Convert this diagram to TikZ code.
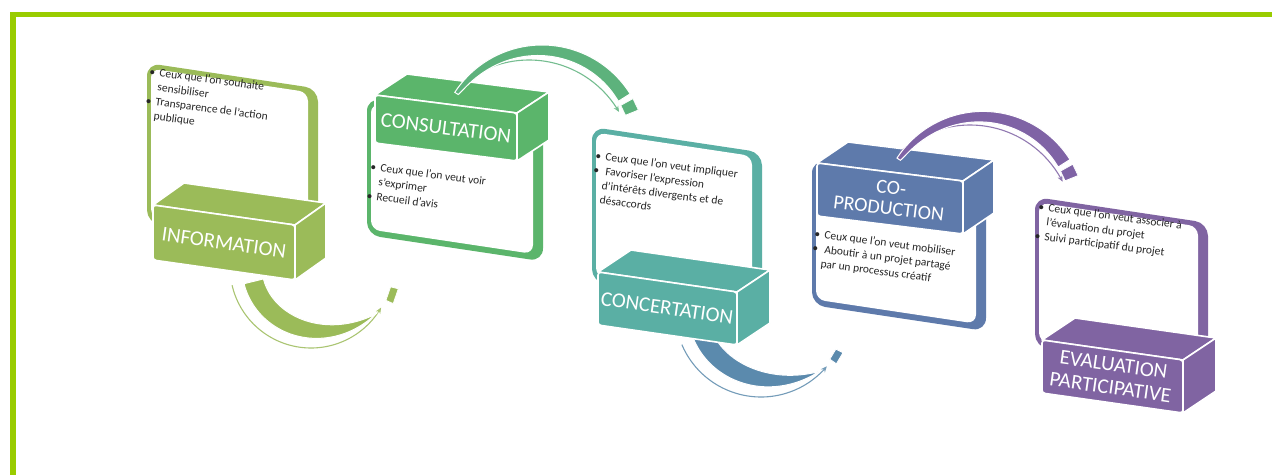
\documentclass[tikz,border=0pt]{standalone}
\usepackage{fontspec}
\setmainfont{Carlito}
\usetikzlibrary{arrows.meta}
\definecolor{frame}{HTML}{99CC00}
\definecolor{cA}{HTML}{9BBB59}
\definecolor{cB}{HTML}{5BB56B}
\definecolor{cC}{HTML}{5AAFA4}
\definecolor{cD}{HTML}{5E7AAB}
\definecolor{cE}{HTML}{8064A2}
\definecolor{aA}{HTML}{9BBB59}
\definecolor{aB}{HTML}{5DB27C}
\definecolor{aC}{HTML}{5B8AAD}
\definecolor{aD}{HTML}{7F63A5}
\definecolor{txt}{HTML}{262626}

\tikzset{
  lab/.style={text=white, font=\fontsize{21}{22}\selectfont, align=center, inner sep=0pt},
  labtwo/.style={text=white, font=\fontsize{20}{21}\selectfont, align=center, inner sep=0pt},
  ptext/.style={text=txt, font=\fontsize{11.5}{14.5}\selectfont, align=left, inner sep=0pt, anchor=north west, rotate=-7.5},
  face/.style={draw=white, line width=1.6pt, line join=round},
}

\newcommand{\bitem}{\makebox[10pt][l]{\textbullet}}
\newcommand{\bcont}{\makebox[10pt]{}}

% panel: colour, x, y (top-left), width, height
\newcommand{\panel}[5]{%
  \begin{scope}[shift={(#2,#3)}, yslant=-0.15]
    \fill[#1, rounded corners=13pt] (0,0) rectangle (#4,#5);
    \fill[white, rounded corners=9pt] (4,5) rectangle ({#4-10},{#5-6});
  \end{scope}}

% cuboid: colour, tlx, tly, trx, try, height, dx, dy
\newcommand{\cuboid}[8]{%
  \fill[#1, face] (#2,#3) -- ({#2+#7},{#3+#8}) -- ({#4+#7},{#5+#8}) -- (#4,#5) -- cycle;
  \fill[#1, face] (#4,#5) -- ({#4+#7},{#5+#8}) -- ({#4+#7},{#5+#8+#6}) -- (#4,{#5+#6}) -- cycle;
  \fill[#1, face, rounded corners=3pt] (#2,#3) -- (#4,#5) -- (#4,{#5+#6}) -- (#2,{#3+#6}) -- cycle;}

% band: colour, cx, cy, Ro0, Ro1, ts, te, w0, w1   (profile exponent in \bandpow)
\def\bandpow{1}
\newcommand{\band}[9]{%
  \filldraw[fill=#1, draw=white, line width=1pt]
    plot[domain=0:1, samples=50, smooth, variable=\u]
      ({#2+((#4)+((#5)-(#4))*(\u)^(\bandpow))*cos((#6)+((#7)-(#6))*\u)},
       {#3+((#4)+((#5)-(#4))*(\u)^(\bandpow))*sin((#6)+((#7)-(#6))*\u)})
    -- plot[domain=1:0, samples=50, smooth, variable=\u]
      ({#2+((#4)+((#5)-(#4))*(\u)^(\bandpow)-(#8)-((#9)-(#8))*(\u)^(\bandpow))*cos((#6)+((#7)-(#6))*\u)},
       {#3+((#4)+((#5)-(#4))*(\u)^(\bandpow)-(#8)-((#9)-(#8))*(\u)^(\bandpow))*sin((#6)+((#7)-(#6))*\u)})
    -- cycle;}

% thin line with tip: colour, cx, cy, R, ts, te
\newcommand{\thinarc}[6]{%
  \draw[#1, line width=1.1pt, -{Stealth[length=6pt,width=5pt]}]
    plot[domain=0:1, samples=40, smooth, variable=\u]
      ({#2+(#4)*cos((#5)+((#6)-(#5))*\u)}, {#3+(#4)*sin((#5)+((#6)-(#5))*\u)});}

% end segment: colour, cx, cy, r1, r2, a1, a2
\newcommand{\tipseg}[7]{%
  \filldraw[fill=#1, draw=white, line width=0.8pt]
    ({#2+(#4)*cos(#6)},{#3+(#4)*sin(#6)}) -- ({#2+(#5)*cos(#6)},{#3+(#5)*sin(#6)})
    -- ({#2+(#5)*cos(#7)},{#3+(#5)*sin(#7)}) -- ({#2+(#4)*cos(#7)},{#3+(#4)*sin(#7)}) -- cycle;}

\begin{document}
\begin{tikzpicture}[x=1pt, y=-1pt]
\useasboundingbox (0,0) rectangle (1272,475);
\fill[white] (0,0) rectangle (1272,475);

% frame
\fill[frame] (10,12) rectangle (1272,17);
\fill[frame] (10,12) rectangle (16,475);

% panels
\panel{cA}{147}{63}{171}{160}
\panel{cB}{367}{98}{176}{137}
\panel{cC}{592}{127}{170}{155}
\panel{cD}{812}{160}{174}{145}
\panel{cE}{1035}{197}{173}{150}

% arrows passing under their boxes (drawn first)
\def\bandpow{3}
% arrow 1 (under INFORMATION)
\thinarc{aA!85}{311}{267}{81}{167}{30}
\band{aA}{311}{267}{69}{80}{166}{36}{20}{0}
\tipseg{aA}{311}{267}{82}{90}{24}{14}
% arrow 3 (under CONCERTATION)
\thinarc{aC!85}{761}{311}{86}{157}{40}
\band{aC}{761}{311}{73}{84}{160}{46}{20}{0}
\tipseg{aC}{761}{311}{84}{92}{35}{27}

% label boxes
\cuboid{cA}{153}{205}{295}{225}{55}{31}{-22}
\cuboid{cB}{375}{95}{517}{113}{48}{32}{-21}
\cuboid{cC}{598}{272}{737}{292}{53}{33}{-22}
\cuboid{cD}{817}{163}{963}{181}{53}{31}{-21}
\cuboid{cE}{1042}{340}{1183}{360}{53}{33}{-22}

% arrows passing over (drawn after the boxes)
\def\bandpow{0.6}
% arrow 2 (over CONSULTATION)
\thinarc{aB!85}{529}{164}{104}{-133.5}{-30}
\band{aB}{542}{149}{104}{104}{-147}{-32}{4}{14}
\tipseg{aB}{542}{149}{90}{104}{-29}{-22}
% arrow 4 (over CO-PRODUCTION)
\thinarc{aD!85}{970}{229}{104}{-132.6}{-27}
\band{aD}{983}{214}{102.6}{102.6}{-147}{-32}{4}{14}
\tipseg{aD}{983}{214}{88.6}{102.6}{-29}{-22}

% labels
\node[lab, rotate=-8] (information) at (224,243) {INFORMATION};
\node[lab, rotate=-7.2] (consultation) at (446,128) {CONSULTATION};
\node[lab, rotate=-8.2] (concertation) at (667,308) {CONCERTATION};
\node[labtwo, rotate=-7] (coproduction) at (890,198) {CO-\\PRODUCTION};
\node[labtwo, rotate=-8, font=\fontsize{21}{23}\selectfont] (evaluation) at (1112,376) {EVALUATION\\PARTICIPATIVE};

% panel texts
\node[ptext] (t1) at (150,67) {\bitem Ceux que l'on souhaite\\\bcont sensibiliser\\\bitem Transparence de l'action\\\bcont publique};
\node[ptext] (t2) at (371,162) {\bitem Ceux que l'on veut voir\\\bcont s'exprimer\\\bitem Recueil d'avis};
\node[ptext] (t3) at (596,151) {\bitem Ceux que l'on veut impliquer\\\bitem\,Favoriser l'expression\\\bcont d'intérêts divergents et de\\\bcont désaccords};
\node[ptext] (t4) at (815,229) {\bitem Ceux que l'on veut mobiliser\\\bitem\,Aboutir à un projet partagé\\\bcont par un processus créatif};
\node[ptext] (t5) at (1039,202) {\bitem Ceux que l'on veut associer à\\\bcont l'évaluation du projet\\\bitem Suivi participatif du projet};
\end{tikzpicture}
\end{document}
